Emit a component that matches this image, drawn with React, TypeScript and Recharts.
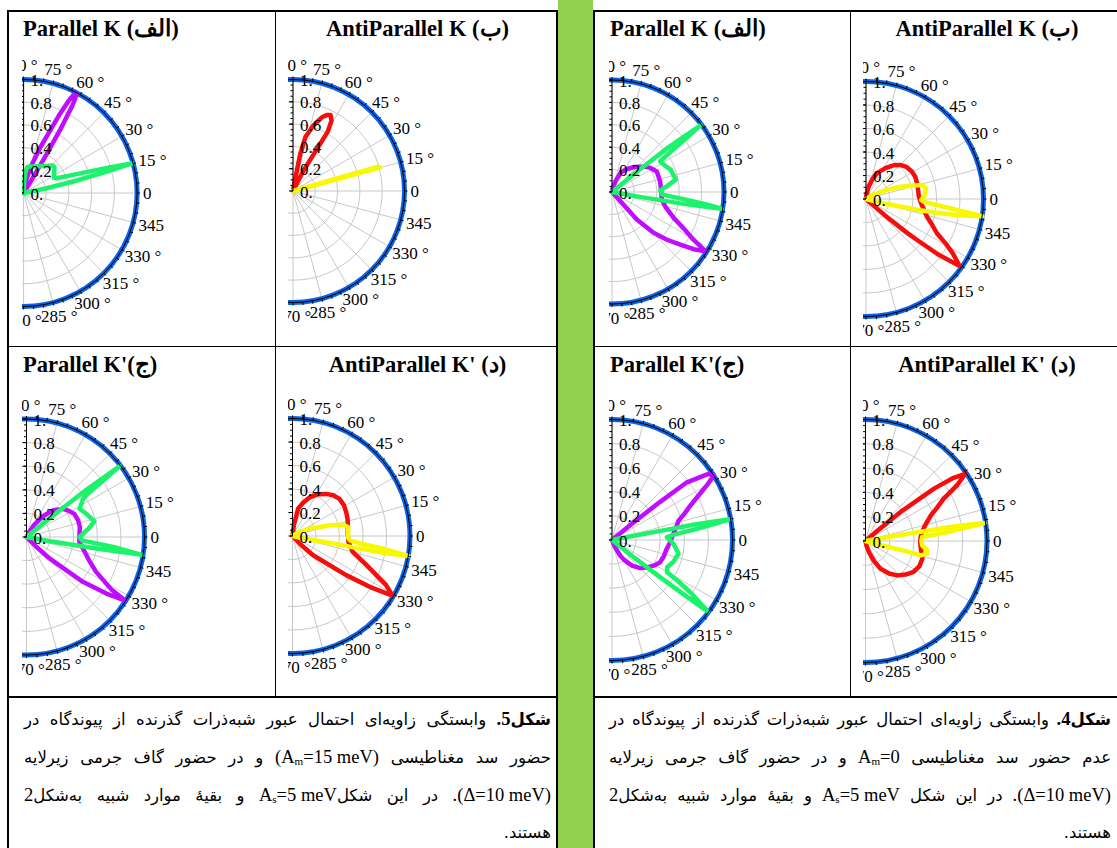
import React from 'react';
import { RadarChart, Radar, PolarGrid, PolarAngleAxis, PolarRadiusAxis } from 'recharts';

// Transmission lobes, [incidence angle in degrees, probability]
const A_PURPLE = [[57,0],[58.5,0.15],[59.3,0.4],[60,0.65],[60.8,0.88],[61.8,0.99],[63,0.97],[64,0.9],[65.5,0.75],[67,0.6],[70,0.42],[74,0.26],[79,0.12],[85,0.03],[90,0]];
const A_GREEN = [[9,0],[11.5,0.2],[13,0.45],[14.2,0.72],[15.3,0.99],[16.5,0.8],[18.5,0.58],[21,0.42],[24,0.32],[26,0.3],[30,0.31],[35,0.33],[40,0.356],[44,0.35],[50,0.31],[55,0.29],[60.5,0.27],[66,0.255],[72,0.245],[78,0.24],[82,0.23],[85,0.18],[87.5,0.1],[90,0]];
const B_RED = [[60,0],[63,0.06],[62.7,0.21],[60.8,0.35],[60,0.49],[59.7,0.62],[61.3,0.72],[63.7,0.76],[66,0.745],[68.6,0.71],[72.5,0.62],[77,0.5],[78.9,0.34],[79.2,0.19],[80,0.067],[80,0]];
const B_YELLOW = [[14.6,0],[14.9,0.45],[15.2,0.81],[15.9,0.8],[16.1,0.45],[16.4,0]];
const C_PURPLE = [[-50,0],[-45,0.12],[-42.9,0.27],[-38.5,0.61],[-35.3,0.83],[-32.8,0.99],[-31.8,0.85],[-26.6,0.66],[-20,0.56],[-14.4,0.51],[-5.4,0.45],[3,0.45],[10.6,0.46],[18,0.46],[25.8,0.45],[32,0.42],[37.7,0.39],[45,0.32],[52,0.22],[58,0.12],[62,0.04],[65,0]];
const C_GREEN = [[39,0],[38.8,0.3],[38.3,0.65],[37.3,0.99],[36.3,0.8],[35,0.62],[34.1,0.58],[28,0.51],[20,0.55],[12.9,0.59],[7.7,0.53],[0,0.45],[-3.5,0.47],[-6.6,0.74],[-8.8,0.99],[-9.3,0.63],[-10.3,0.2],[-11,0]];
const D_RED = [[-50,0],[-46,0.1],[-43.1,0.24],[-36.1,0.565],[-33.1,0.81],[-30.8,0.99],[-27.7,0.9],[-21.6,0.68],[-14.8,0.53],[-6.2,0.48],[2,0.47],[10.8,0.48],[17,0.49],[24,0.5],[31,0.51],[38.3,0.51],[45,0.49],[51.2,0.46],[58,0.42],[66,0.36],[72,0.3],[78.3,0.24],[83,0.09],[86,0]];
const D_YELLOW = [[40,0],[30,0.06],[23,0.16],[16,0.33],[12.6,0.44],[9.2,0.48],[4,0.475],[-1,0.47],[-4.3,0.49],[-6.5,0.6],[-7.8,0.75],[-9,0.9],[-9.8,1.0],[-10.5,0.8],[-10.6,0.55],[-10.5,0.35],[-11.5,0.15],[-13,0]];
const E_PURPLE = [[-52,0],[-47.7,0.13],[-47.9,0.33],[-44.5,0.52],[-41,0.65],[-37.6,0.77],[-35,0.89],[-32.4,0.99],[-30.3,0.84],[-27,0.72],[-22.9,0.6],[-16,0.5],[-8.7,0.45],[0,0.44],[12.4,0.44],[24.7,0.44],[33,0.4],[39,0.36],[48,0.3],[58,0.24],[66,0.19],[72.6,0.1],[80,0.03],[85,0]];
const E_GREEN = [[40,0],[39.2,0.3],[38.3,0.65],[37,0.99],[35.5,0.75],[33.8,0.58],[32.4,0.51],[26,0.53],[20.9,0.56],[11,0.58],[5.9,0.49],[2,0.43],[-3,0.45],[-5.5,0.62],[-7.5,0.85],[-8.7,0.99],[-9.4,0.65],[-10,0.25],[-11,0]];
const F_RED = [[-45,0],[-41,0.2],[-39.5,0.45],[-38.8,0.55],[-37.5,0.78],[-35.6,0.98],[-32,0.87],[-29,0.77],[-25.8,0.67],[-21,0.6],[-16.2,0.54],[-10,0.5],[-4.4,0.47],[3,0.45],[9.7,0.45],[17,0.455],[24.4,0.46],[31,0.455],[38.3,0.44],[45,0.41],[50.9,0.37],[58,0.31],[66.8,0.24],[72,0.18],[77.8,0.11],[84,0.04],[88,0]];
const F_YELLOW = [[45,0],[30,0.08],[24,0.18],[19.8,0.31],[16,0.42],[14,0.49],[9.9,0.52],[4,0.5],[-1,0.47],[-3,0.5],[-6.3,0.72],[-8.4,1.0],[-10,0.8],[-11,0.6],[-12,0.44],[-13.8,0.16],[-16,0]];
const G_PURPLE = [[42,0],[39.5,0.2],[38.4,0.51],[37.6,0.785],[34.4,0.97],[32.4,1.0],[30,0.91],[27,0.8],[23.7,0.71],[20,0.64],[16.2,0.575],[9,0.53],[3,0.5],[-3,0.48],[-9.3,0.46],[-18,0.45],[-24.8,0.44],[-31,0.41],[-38,0.37],[-45,0.33],[-52,0.27],[-58,0.2],[-62,0.15],[-68,0.06],[-75,0]];
const G_GREEN = [[-39,0],[-38.3,0.25],[-37.7,0.5],[-37.2,0.75],[-36.7,0.99],[-34,0.8],[-32,0.65],[-30.3,0.53],[-26.3,0.51],[-19.8,0.54],[-11.7,0.564],[-3.6,0.512],[2.9,0.456],[5.4,0.54],[7.5,0.72],[9,0.87],[10,0.99],[10.6,0.7],[10.6,0.41],[11,0.15],[12,0]];
const H_RED = [[44,0],[41,0.12],[39.6,0.375],[37.4,0.71],[35.8,0.88],[34,0.99],[31.3,0.88],[28.4,0.73],[25,0.65],[21.5,0.58],[15,0.51],[9,0.47],[4,0.455],[-1,0.45],[-8,0.46],[-17.3,0.49],[-25,0.49],[-32.7,0.47],[-40,0.43],[-47.3,0.385],[-54,0.33],[-61.5,0.26],[-67,0.18],[-73,0.095],[-78,0.04],[-84,0]];
const H_YELLOW = [[-18,0],[-15,0.15],[-14.2,0.35],[-14.6,0.47],[-11.5,0.52],[-8.6,0.514],[-4.4,0.468],[0,0.46],[4,0.468],[6,0.65],[7.5,0.82],[8.6,0.99],[9.3,0.75],[9.5,0.5],[9.8,0.25],[10.5,0]];

// axes
const ANGLE_TICKS = [-90,-85,-80,-75,-70,-65,-60,-55,-50,-45,-40,-35,-30,-25,-20,-15,-10,-5,0,5,10,15,20,25,30,35,40,45,50,55,60,65,70,75,80,85,90];
const GRID_ANGLES = [-90,-75,-60,-45,-30,-15,0,15,30,45,60,75,90];
const ANGLE_LABELS = ['270 °','285 °','300 °','315 °','330 °','345','0','15 °','30 °','45 °','60 °','75 °','90 °'];
const RADIUS_TICKS = [0,0.2,0.4,0.6,0.8,1];
const RADIUS_LABELS = ['0.','0.2','0.4','0.6','0.8','1.'];
const MINOR_TICKS = [0,0.05,0.1,0.15,0.2,0.25,0.3,0.35,0.4,0.45,0.5,0.55,0.6,0.65,0.7,0.75,0.8,0.85,0.9,0.95,1];

const PURPLE = '#c10cff';
const GREEN = '#1cf26c';
const RED = '#f70d0d';
const YELLOW = '#f8f800';
const BLUE = '#0c63e6';
const GRID = '#c8c8c8';

const SERIF = '"Liberation Serif", "Times New Roman", serif';
const PERSIAN = '"DejaVu Sans", sans-serif';
const TICK_FONT = 17;
const CHART_W = 190;
const CHART_H = 300;
const CHART_CY = 150;

function labelWidth(s: string) {
  let w = 0;
  for (const ch of s) w += ch === ' ' ? 0.25 : ch === '°' ? 0.4 : 0.5;
  return w * TICK_FONT;
}

function AngleTick(props: any) {
  const { x, y, payload } = props;
  const idx = GRID_ANGLES.indexOf(payload.value);
  if (idx < 0) return null;
  const label = ANGLE_LABELS[idx];
  const rad = (payload.coordinate * Math.PI) / 180;
  const c = Math.cos(rad);
  const s = Math.sin(rad);
  const ax = x + 3 * c;
  const ay = y - 3 * s;
  const w = labelWidth(label);
  return (
    <text x={ax - ((1 - c) / 2) * w} y={ay - s * 8} dominantBaseline="central" textAnchor="start"
      fontFamily={SERIF} fontSize={TICK_FONT} fill="#000">
      {label}
    </text>
  );
}

function RadiusTick(props: any) {
  const { x, y, payload } = props;
  const idx = RADIUS_TICKS.findIndex((t) => Math.abs(t - payload.value) < 1e-6);
  return (
    <g>
      <line x1={x - 4} y1={y} x2={x} y2={y} stroke="#000" strokeWidth={1} />
      <text x={x + 7} y={y + 1} dominantBaseline="central" textAnchor="start"
        fontFamily={SERIF} fontSize={TICK_FONT} fill="#000">
        {idx >= 0 ? RADIUS_LABELS[idx] : ''}
      </text>
    </g>
  );
}

function MinorTick(props: any) {
  const { x, y } = props;
  return <line x1={x - 2.5} y1={y} x2={x} y2={y} stroke="#000" strokeWidth={1} />;
}

function RingShape(props: any) {
  const p = (props.points || []).find((q: any) => Number.isFinite(q.radius));
  if (!p) return null;
  return <circle cx={p.cx} cy={p.cy} r={p.radius} fill="none" stroke={BLUE} strokeWidth={5} />;
}

function curveShape(color: string) {
  return (props: any) => {
    const pts = (props.points || []).filter((q: any) => Number.isFinite(q.x) && Number.isFinite(q.y));
    if (!pts.length) return null;
    const d = pts.map((q: any, i: number) => `${i ? 'L' : 'M'}${q.x.toFixed(2)},${q.y.toFixed(2)}`).join(' ');
    return <path d={d} fill="none" stroke={color} strokeWidth={4.5} strokeLinejoin="round" strokeLinecap="round" />;
  };
}

type Series = { data: number[][]; color: string };

const CELLS: { id: string; cx: number; cy: number; r: number; clip: number; series: Series[] }[] = [
  { id: 'a', cx: 24, cy: 193.2, r: 113.5, clip: 1.6, series: [{ data: A_PURPLE, color: PURPLE }, { data: A_GREEN, color: GREEN }] },
  { id: 'b', cx: 292.7, cy: 190.8, r: 111.5, clip: 5, series: [{ data: B_RED, color: RED }, { data: B_YELLOW, color: YELLOW }] },
  { id: 'c', cx: 26.9, cy: 536.7, r: 118, clip: 4.5, series: [{ data: C_PURPLE, color: PURPLE }, { data: C_GREEN, color: GREEN }] },
  { id: 'd', cx: 292.7, cy: 535.5, r: 117.5, clip: 4.5, series: [{ data: D_RED, color: RED }, { data: D_YELLOW, color: YELLOW }] },
  { id: 'e', cx: 611.7, cy: 192.3, r: 112, clip: 3, series: [{ data: E_PURPLE, color: PURPLE }, { data: E_GREEN, color: GREEN }] },
  { id: 'f', cx: 865.7, cy: 198.5, r: 117.5, clip: 3, series: [{ data: F_RED, color: RED }, { data: F_YELLOW, color: YELLOW }] },
  { id: 'g', cx: 611.7, cy: 539.5, r: 120.5, clip: 3, series: [{ data: G_PURPLE, color: PURPLE }, { data: G_GREEN, color: GREEN }] },
  { id: 'h', cx: 865.2, cy: 540.8, r: 121.5, clip: 2.5, series: [{ data: H_RED, color: RED }, { data: H_YELLOW, color: YELLOW }] },
];

function buildRows(series: Series[]) {
  const rows: any[] = [{ theta: 0, ring: 1 }];
  series.forEach((s, i) => {
    s.data.forEach(([theta, r]) => rows.push({ theta, [`s${i}`]: r }));
  });
  return rows;
}

function PolarCell({ cx, cy, r, clip, series }: { cx: number; cy: number; r: number; clip: number; series: Series[] }) {
  const rows = buildRows(series);
  return (
    <div style={{ position: 'absolute', left: cx - clip, top: cy - CHART_CY, width: CHART_W, height: CHART_H, overflow: 'hidden' }}>
      <RadarChart width={CHART_W} height={CHART_H} data={rows} cx={clip} cy={CHART_CY} innerRadius={0} outerRadius={r}
        startAngle={-90} endAngle={90} margin={{ top: 0, right: 0, bottom: 0, left: 0 }}>
        <PolarGrid gridType="circle" stroke={GRID} strokeWidth={1} polarAngles={GRID_ANGLES} />
        <Radar dataKey="ring" shape={RingShape} isAnimationActive={false} />
        {series.map((s, i) => (
          <Radar key={i} dataKey={`s${i}`} shape={curveShape(s.color)} isAnimationActive={false} />
        ))}
        <PolarAngleAxis dataKey="theta" type="number" domain={[-90, 90]} ticks={ANGLE_TICKS} tickCount={37} allowDataOverflow
          stroke="#000" axisLine={{ stroke: '#000', strokeWidth: 1 }} axisLineType="circle" tickLine={{ stroke: '#000' }}
          tickSize={3} tick={AngleTick} />
        <PolarRadiusAxis angle={90} type="number" domain={[0, 1]} ticks={RADIUS_TICKS} tickCount={6} allowDataOverflow
          stroke="#000" axisLine={{ stroke: '#000', strokeWidth: 1 }} tick={RadiusTick} />
        <PolarRadiusAxis radiusAxisId="minor" angle={90} type="number" domain={[0, 1]} ticks={MINOR_TICKS} tickCount={21}
          allowDataOverflow axisLine={false} tick={MinorTick} />
      </RadarChart>
    </div>
  );
}

const titleStyle: React.CSSProperties = {
  position: 'absolute', fontFamily: SERIF, fontWeight: 'bold', fontSize: 22.5, lineHeight: '22px',
  whiteSpace: 'nowrap', color: '#000',
};

const TITLES = [
  { text: 'Parallel K (الف)', x: 23, base: 35, center: false },
  { text: 'AntiParallel K (ب)', x: 417.5, base: 35, center: true },
  { text: "Parallel K'(ج)", x: 23, base: 371, center: false },
  { text: "AntiParallel K' (د)", x: 417.5, base: 371, center: true },
  { text: 'Parallel K (الف)', x: 610, base: 35, center: false },
  { text: 'AntiParallel K (ب)', x: 987, base: 35, center: true },
  { text: "Parallel K'(ج)", x: 610, base: 371, center: false },
  { text: "AntiParallel K' (د)", x: 987, base: 371, center: true },
];

function Lat({ children }: { children: React.ReactNode }) {
  return <span style={{ fontFamily: SERIF, fontSize: 18.5 }}>{children}</span>;
}

const sub: React.CSSProperties = { fontSize: '0.6em', verticalAlign: '-0.2em' };

const LINE_Y = [719, 757, 795, 833];

function CaptionLine({ left, width, y, words, last }: { left: number; width: number; y: number; words: React.ReactNode[]; last?: boolean }) {
  return (
    <div dir="rtl" style={{
      position: 'absolute', left, width, top: y - 13, height: 26, display: 'flex', flexDirection: 'row',
      justifyContent: last ? 'flex-start' : 'space-between', alignItems: 'baseline',
      fontFamily: PERSIAN, fontSize: 16.5, lineHeight: '26px', color: '#000', whiteSpace: 'nowrap',
    }}>
      {words.map((w, i) => <span key={i}>{w}</span>)}
    </div>
  );
}

const COMMON_L1 = ['وابستگی', 'زاویه‌ای', 'احتمال', 'عبور', 'شبه‌ذرات', 'گذرنده', 'از', 'پیوندگاه', 'در'];

function Caption({ left, width, fig, absent }: { left: number; width: number; fig: string; absent: boolean }) {
  const l1 = [<b key="f">شکل<Lat><b>{fig}.</b></Lat></b>, ...COMMON_L1];
  const l2 = absent
    ? ['عدم', 'حضور', 'سد', 'مغناطیسی', <Lat key="a">A<sub style={sub}>m</sub>=0</Lat>, 'و', 'در', 'حضور', 'گاف', 'جرمی', 'زیرلایه']
    : ['حضور', 'سد', 'مغناطیسی', <Lat key="a">(A<sub style={sub}>m</sub>=15 meV)</Lat>, 'و', 'در', 'حضور', 'گاف', 'جرمی', 'زیرلایه'];
  const as = <Lat key="s">A<sub style={sub}>s</sub>=5 meV</Lat>;
  const l3 = absent
    ? [<Lat key="d">(Δ=10 meV).</Lat>, 'در', 'این', 'شکل', as, 'و', 'بقیهٔ', 'موارد', 'شبیه', <span key="k">به‌شکل<Lat>2</Lat></span>]
    : [<Lat key="d">(Δ=10 meV).</Lat>, 'در', 'این', <span key="k0">شکل{as}</span>, 'و', 'بقیهٔ', 'موارد', 'شبیه', <span key="k">به‌شکل<Lat>2</Lat></span>];
  return (
    <>
      <CaptionLine left={left} width={width} y={LINE_Y[0]} words={l1} />
      <CaptionLine left={left} width={width} y={LINE_Y[1]} words={l2} />
      <CaptionLine left={left} width={width} y={LINE_Y[2]} words={l3} />
      <CaptionLine left={left} width={width} y={LINE_Y[3]} words={['هستند.']} last />
    </>
  );
}

function Rule({ x, y, w, h }: { x: number; y: number; w: number; h: number }) {
  return <div style={{ position: 'absolute', left: x, top: y, width: w, height: h, background: '#000' }} />;
}

export default function App() {
  return (
    <div style={{ position: 'absolute', left: 0, top: 0, width: 1117, height: 848, background: '#fff', overflow: 'hidden' }}>
      <div style={{ position: 'absolute', left: 558, top: 0, width: 35, height: 848, background: '#92d050' }} />

      {/* left table */}
      <Rule x={7} y={10} w={551} h={2} />
      <Rule x={7} y={10} w={2} h={838} />
      <Rule x={556} y={10} w={2} h={838} />
      <Rule x={274.5} y={11} w={1} h={686} />
      <Rule x={8} y={345.5} w={549} h={1} />
      <Rule x={8} y={696} w={549} h={2} />

      {/* right table */}
      <Rule x={593} y={10} w={524} h={2} />
      <Rule x={593} y={10} w={2} h={838} />
      <Rule x={850} y={11} w={1} h={686} />
      <Rule x={594} y={345.5} w={523} h={1} />
      <Rule x={594} y={696} w={523} h={2} />

      {TITLES.map((t, i) => (
        <div key={i} style={{ ...titleStyle, left: t.x, top: t.base - 17.5, transform: t.center ? 'translateX(-50%)' : undefined }}>
          {t.text}
        </div>
      ))}

      {CELLS.map((c) => (
        <PolarCell key={c.id} cx={c.cx} cy={c.cy} r={c.r} clip={c.clip} series={c.series} />
      ))}

      <Caption left={24} width={527} fig="5" absent={false} />
      <Caption left={609} width={502} fig="4" absent={true} />
    </div>
  );
}
